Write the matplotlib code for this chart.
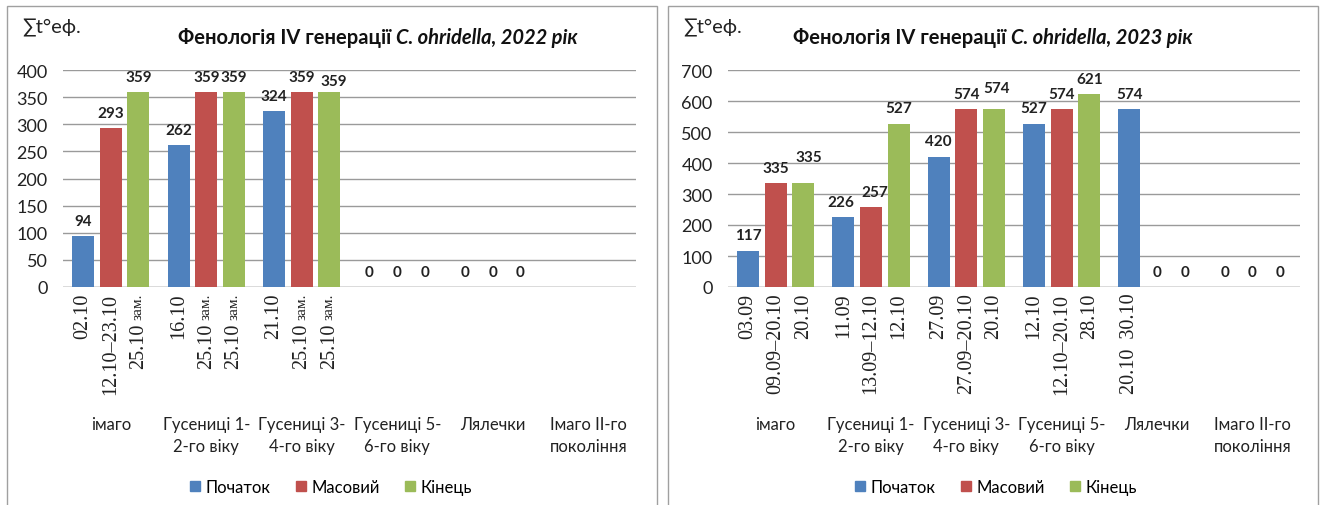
import matplotlib
matplotlib.use("Agg")
import matplotlib.pyplot as plt
from matplotlib.patches import Patch, Rectangle
import numpy as np

plt.rcParams['font.family'] = ['Lato', 'DejaVu Sans']

# --- дані ---
stages = ["імаго", "Гусениці 1-\n2-го віку", "Гусениці 3-\n4-го віку",
          "Гусениці 5-\n6-го віку", "Лялечки", "Імаго ІІ-го\nпокоління"]
series_names = ["Початок", "Масовий", "Кінець"]

# 2022
start_2022 = [94, 262, 324, 0, 0, np.nan]
mass_2022 = [293, 359, 359, 0, 0, np.nan]
end_2022 = [359, 359, 359, 0, 0, np.nan]
dates_start_2022 = ["02.10", "16.10", "21.10", "", "", ""]
dates_mass_2022 = ["12.10–23.10", "25.10 зам.", "25.10 зам.", "", "", ""]
dates_end_2022 = ["25.10 зам.", "25.10 зам.", "25.10 зам.", "", "", ""]

# 2023
start_2023 = [117, 226, 420, 527, 574, 0]
mass_2023 = [335, 257, 574, 574, 0, 0]
end_2023 = [335, 527, 574, 621, 0, 0]
dates_start_2023 = ["03.09", "11.09", "27.09", "12.10", "20.10  30.10", ""]
dates_mass_2023 = ["09.09–20.10", "13.09–12.10", "27.09–20.10", "12.10–20.10", "", ""]
dates_end_2023 = ["20.10", "12.10", "20.10", "28.10", "", ""]

colors = ['#4F81BD', '#C0504D', '#9BBB59']
W, H = 1323, 506

# зсуви підписів, як в Excel (серія, категорія) -> (dx, dy) у пунктах
nudge_2022 = {(2, 2): (3, -3)}
nudge_2023 = {(2, 0): (4, 8), (1, 1): (3, 0), (0, 1): (-2, 0), (2, 2): (2, 4)}

fig = plt.figure(figsize=(W / 100, H / 100), dpi=100)
renderer = fig.canvas.get_renderer()


def draw_panel(ax, series, dates, ymax, ystep, title_year, px_left, px_title, legend_cx, nudge):
    x = np.arange(len(stages))
    offs = [-0.29, 0, 0.29]
    for i, (vals, lbls) in enumerate(zip(series, dates)):
        xs = x + offs[i]
        ax.bar(xs, vals, 0.23, color=colors[i], zorder=3)
        for j, (xi, v, d) in enumerate(zip(xs, vals, lbls)):
            if not np.isnan(v):
                dx, dy = nudge.get((i, j), (0, 0))
                ax.annotate(f"{int(v)}", (xi, v), xytext=(dx, 6 + dy), textcoords='offset points',
                            ha='center', va='bottom', fontsize=11, fontweight='bold',
                            color='#222222')
            if d:
                if d.endswith(" зам."):
                    t1 = ax.annotate("зам.", (xi, 0), xycoords=('data', 'axes fraction'),
                                     xytext=(0, -4), textcoords='offset points',
                                     rotation=90, ha='center', va='top', fontsize=11,
                                     family='Liberation Serif', color='#222222')
                    h = t1.get_window_extent(renderer).height * 72 / 100
                    ax.annotate(d[:-5], (xi, 0), xycoords=('data', 'axes fraction'),
                                xytext=(0, -4 - h - 3), textcoords='offset points',
                                rotation=90, ha='center', va='top', fontsize=14.5,
                                family='Liberation Serif', color='#222222')
                else:
                    ax.annotate(d, (xi, 0), xycoords=('data', 'axes fraction'),
                                xytext=(0, -4), textcoords='offset points',
                                rotation=90, ha='center', va='top', fontsize=14.5,
                                family='Liberation Serif', color='#222222')
    for xi, s in zip(x, stages):
        ax.annotate(s, (xi, 1 - 417 / H), xycoords=('data', 'figure fraction'),
                    ha='center', va='top', fontsize=12, color='#222222',
                    linespacing=1.45)
    ax.set_xlim(-0.5, len(stages) - 0.5)
    ax.set_ylim(0, ymax)
    ax.set_yticks(np.arange(0, ymax + 1, ystep))
    ax.set_xticks([])
    ax.tick_params(axis='y', length=0, labelsize=13, labelcolor='#222222', pad=11)
    ax.grid(axis='y', color='#9a9a9a', linewidth=1, zorder=0)
    for sp in ax.spines.values():
        sp.set_visible(False)
    ax.axhline(0, color='#9a9a9a', linewidth=1, zorder=1)

    # заголовок
    fig.text((px_left + 15) / W, 1 - 28 / H, "∑t°еф.", fontsize=14.5, va='center', color='#222222')
    t = fig.text(px_title / W, 1 - 38 / H, "Фенологія IV генерації ", fontsize=14.5,
                 fontweight='bold', va='center', color='#111111')
    bb = t.get_window_extent(renderer)
    fig.text(bb.x1 / W, 1 - 38 / H, "C. ohridella, " + title_year + " рік", fontsize=14.5,
             fontweight='bold', style='italic', va='center', color='#111111')

    handles = [Patch(color=c) for c in colors]
    fig.legend(handles, series_names, loc='center', bbox_to_anchor=(legend_cx / W, 1 - 488 / H),
               ncol=3, frameon=False, fontsize=12, handlelength=0.6, handleheight=0.6,
               handletextpad=0.35, columnspacing=1.5)

    # рамка діаграми
    fig.add_artist(Rectangle((px_left / W, -0.05), 650 / W, 1.05 - 7 / H,
                             transform=fig.transFigure, fill=False,
                             edgecolor='#a0a0a0', linewidth=1))


axL = fig.add_axes([63 / W, 1 - 288 / H, 573 / W, 217 / H])
draw_panel(axL, [start_2022, mass_2022, end_2022],
           [dates_start_2022, dates_mass_2022, dates_end_2022],
           400, 50, "2022", 7, 178, 331, nudge_2022)

axR = fig.add_axes([728 / W, 1 - 288 / H, 572 / W, 217 / H])
draw_panel(axR, [start_2023, mass_2023, end_2023],
           [dates_start_2023, dates_mass_2023, dates_end_2023],
           700, 100, "2023", 668, 793, 996, nudge_2023)

fig.savefig("out.png", dpi=100)
